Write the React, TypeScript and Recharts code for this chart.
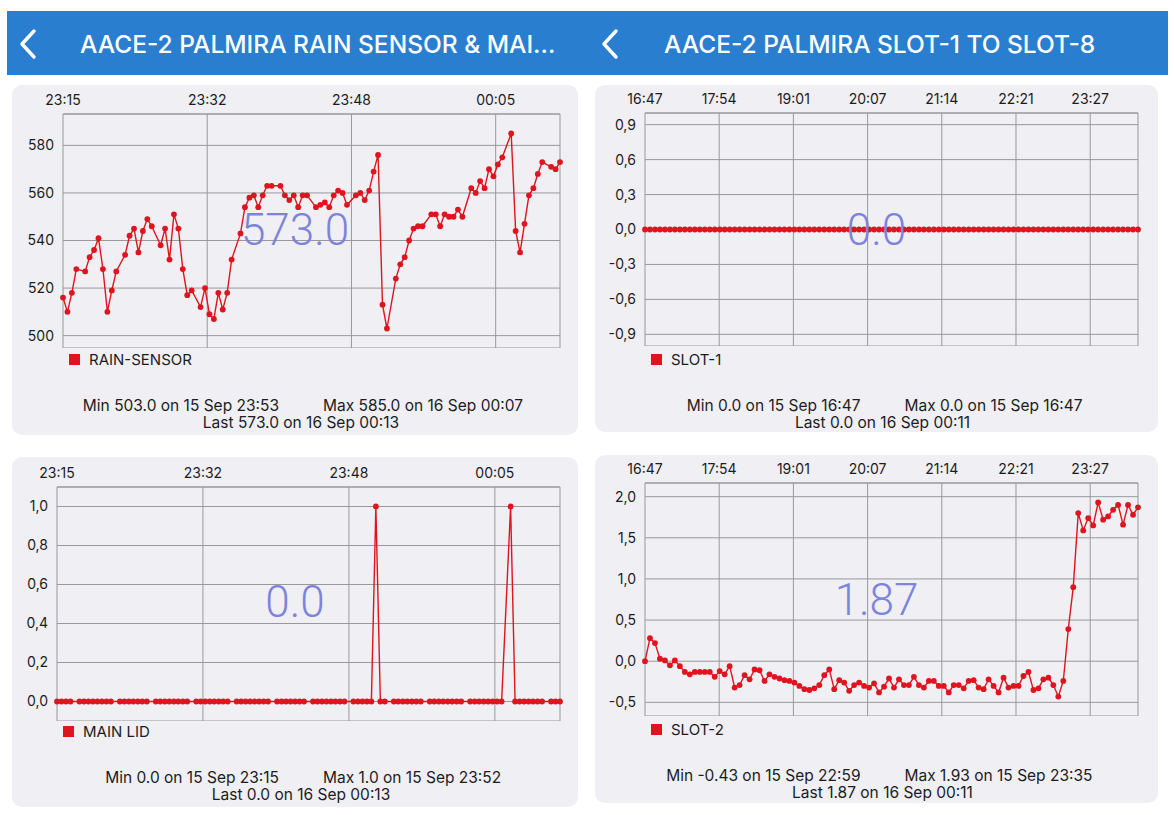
import { LineChart, Line, XAxis, YAxis, CartesianGrid } from 'recharts';

// left screen: samples every ~31 s starting 23:15 (some samples missing)
const leftSamples = [
  0, 1, 2, 3, 5, 6, 7, 8, 9, 10, 11, 12, 14, 15, 16, 17, 18, 19, 20, 22,
  23, 24, 25, 26, 27, 28, 29, 31, 32, 33, 34, 35, 36, 37, 38, 40, 41, 42, 43, 44,
  45, 46, 47, 49, 50, 51, 52, 53, 54, 55, 57, 58, 59, 60, 61, 62, 63, 64, 66, 67,
  68, 69, 70, 71, 72, 73, 75, 76, 77, 78, 79, 80, 81, 83, 84, 85, 86, 87, 88, 89,
  90, 92, 93, 94, 95, 96, 97, 98, 99, 101, 102, 103, 104, 105, 106, 107, 108, 110, 111, 112,
];

const rainSensor = [
  516, 510, 518, 528, 527, 533, 536, 541, 528, 510,
  519, 527, 534, 542, 545, 535, 544, 549, 546, 538,
  545, 532, 551, 545, 528, 517, 519, 512, 520, 509,
  507, 518, 511, 518, 532, 543, 554, 558, 559, 554,
  559, 563, 563, 563, 559, 557, 559, 554, 559, 559,
  554, 555, 556, 554, 559, 561, 560, 555, 559, 560,
  557, 561, 569, 576, 513, 503, 524, 530, 533, 540,
  545, 546, 546, 551, 551, 546, 551, 550, 550, 553,
  550, 562, 560, 565, 562, 570, 567, 572, 575, 585,
  544, 535, 547, 559, 562, 568, 573, 571, 570, 573,
];

const mainLid = [
  0, 0, 0, 0, 0, 0, 0, 0, 0, 0,
  0, 0, 0, 0, 0, 0, 0, 0, 0, 0,
  0, 0, 0, 0, 0, 0, 0, 0, 0, 0,
  0, 0, 0, 0, 0, 0, 0, 0, 0, 0,
  0, 0, 0, 0, 0, 0, 0, 0, 0, 0,
  0, 0, 0, 0, 0, 0, 0, 0, 0, 0,
  0, 0, 0, 1, 0, 0, 0, 0, 0, 0,
  0, 0, 0, 0, 0, 0, 0, 0, 0, 0,
  0, 0, 0, 0, 0, 0, 0, 0, 0, 1,
  0, 0, 0, 0, 0, 0, 0, 0, 0, 0,
];

const leftTicks = [0, 32.5, 65, 97.5];
const leftTickLabels = ['23:15', '23:32', '23:48', '00:05'];

// right screen: one sample every ~4.5 min starting 16:47
const slot1 = [
  0, 0, 0, 0, 0, 0, 0, 0, 0, 0, 0, 0, 0, 0, 0, 0, 0, 0, 0, 0,
  0, 0, 0, 0, 0, 0, 0, 0, 0, 0, 0, 0, 0, 0, 0, 0, 0, 0, 0, 0,
  0, 0, 0, 0, 0, 0, 0, 0, 0, 0, 0, 0, 0, 0, 0, 0, 0, 0, 0, 0,
  0, 0, 0, 0, 0, 0, 0, 0, 0, 0, 0, 0, 0, 0, 0, 0, 0, 0, 0, 0,
  0, 0, 0, 0, 0, 0, 0, 0, 0, 0, 0, 0, 0, 0, 0, 0, 0, 0, 0, 0,
];

const slot2 = [
  0.0, 0.28, 0.22, 0.03, 0.01, -0.05, 0.01, -0.06, -0.13, -0.16,
  -0.13, -0.13, -0.13, -0.13, -0.19, -0.12, -0.16, -0.06, -0.32, -0.29,
  -0.17, -0.22, -0.1, -0.11, -0.24, -0.16, -0.19, -0.21, -0.23, -0.24,
  -0.26, -0.3, -0.34, -0.35, -0.33, -0.29, -0.17, -0.1, -0.34, -0.23,
  -0.26, -0.36, -0.29, -0.26, -0.3, -0.32, -0.27, -0.38, -0.31, -0.21,
  -0.32, -0.22, -0.29, -0.29, -0.19, -0.29, -0.32, -0.24, -0.24, -0.3,
  -0.3, -0.38, -0.29, -0.29, -0.33, -0.24, -0.23, -0.32, -0.34, -0.22,
  -0.3, -0.38, -0.2, -0.32, -0.3, -0.3, -0.18, -0.13, -0.35, -0.33,
  -0.22, -0.2, -0.29, -0.43, -0.24, 0.39, 0.9, 1.8, 1.59, 1.74,
  1.65, 1.93, 1.72, 1.76, 1.84, 1.9, 1.66, 1.9, 1.78, 1.87,
];

const rightTicks = [0, 14.9, 29.8, 44.7, 59.6, 74.5, 89.4];
const rightTickLabels = ['16:47', '17:54', '19:01', '20:07', '21:14', '22:21', '23:27'];

const rainTicks = [500, 520, 540, 560, 580];
const lidTicks = [0, 0.2, 0.4, 0.6, 0.8, 1.0];
const slot1Ticks = [-0.9, -0.6, -0.3, 0, 0.3, 0.6, 0.9];
const slot2Ticks = [-0.5, 0, 0.5, 1, 1.5, 2];

const RED = '#e0141e';
const GRID = '#98989d';
const FONT = 'Inter, "Noto Sans", sans-serif';

const comma = (v: number) => v.toFixed(1).replace('.', ',');
const plain = (v: number) => String(v);

interface PanelProps {
  left: number;
  top: number;
  width: number;
  height: number;
  data: { x: number; v: number }[];
  xDomain: [number, number];
  xTicks: number[];
  xLabels: string[];
  yDomain: [number, number];
  yTicks: number[];
  yFormat: (v: number) => string;
  yWidth: number;
  axisHeight: number;
  chartHeight: number;
  rightGap: number;
  legend: string;
  current: string;
  minText: string;
  maxText: string;
  lastText: string;
}

function Panel(p: PanelProps) {
  const mid = p.width / 2 + 6;
  const tickStyle = { fill: '#1c1c1e', fontSize: 14, fontFamily: FONT };
  return (
    <div
      style={{
        position: 'absolute',
        left: p.left,
        top: p.top,
        width: p.width,
        height: p.height,
        background: '#efeff4',
        borderRadius: 10,
        fontFamily: FONT,
        color: '#1c1c1e',
      }}
    >
      <LineChart
        width={p.width}
        height={p.chartHeight}
        data={p.data}
        margin={{ top: 0, right: p.rightGap, bottom: 0, left: 0 }}
      >
        <CartesianGrid stroke={GRID} />
        <XAxis
          dataKey="x"
          type="number"
          orientation="top"
          domain={p.xDomain}
          ticks={p.xTicks}
          interval={0}
          height={p.axisHeight}
          tickSize={0}
          tickMargin={9}
          tickLine={false}
          axisLine={{ stroke: GRID }}
          tick={tickStyle}
          tickFormatter={(_v: number, i: number) => p.xLabels[i]}
        />
        <YAxis
          type="number"
          domain={p.yDomain}
          ticks={p.yTicks}
          interval={0}
          width={p.yWidth}
          tickSize={0}
          tickMargin={9}
          tickLine={false}
          axisLine={false}
          tick={tickStyle}
          tickFormatter={p.yFormat}
        />
        <Line
          dataKey="v"
          stroke={RED}
          strokeWidth={1.4}
          dot={{ r: 2.9, fill: RED, stroke: 'none' }}
          isAnimationActive={false}
        />
      </LineChart>

      <div
        style={{
          position: 'absolute',
          left: 0,
          top: 123,
          width: p.width,
          textAlign: 'center',
          fontFamily: 'Roboto, sans-serif',
          fontWeight: 300,
          fontSize: 44,
          lineHeight: '44px',
          color: '#7c84da',
          pointerEvents: 'none',
        }}
      >
        {p.current}
      </div>

      <div style={{ position: 'absolute', left: p.yWidth + 6, top: 265, display: 'flex', alignItems: 'center' }}>
        <span style={{ width: 11, height: 11, background: RED, display: 'inline-block', marginRight: 9 }} />
        <span style={{ fontSize: 15 }}>{p.legend}</span>
      </div>

      <div style={{ position: 'absolute', right: p.width - (mid - 22), top: 311, fontSize: 15.5, whiteSpace: 'nowrap' }}>
        {p.minText}
      </div>
      <div style={{ position: 'absolute', left: mid + 22, top: 311, fontSize: 15.5, whiteSpace: 'nowrap' }}>
        {p.maxText}
      </div>
      <div style={{ position: 'absolute', left: 0, width: mid * 2, top: 328, fontSize: 15.5, textAlign: 'center', whiteSpace: 'nowrap' }}>
        {p.lastText}
      </div>
    </div>
  );
}

function Chevron({ x }: { x: number }) {
  return (
    <svg style={{ position: 'absolute', left: x, top: 28, overflow: 'visible' }} width={20} height={32}>
      <polyline points="15,3 3,16 15,29" fill="none" stroke="#ffffff" strokeWidth={3.4} strokeLinecap="round" strokeLinejoin="round" />
    </svg>
  );
}

export default function App() {
  const rainData = leftSamples.map((x, i) => ({ x, v: rainSensor[i] }));
  const lidData = leftSamples.map((x, i) => ({ x, v: mainLid[i] }));
  const slot1Data = slot1.map((v, i) => ({ x: i, v }));
  const slot2Data = slot2.map((v, i) => ({ x: i, v }));

  const titleStyle = {
    position: 'absolute' as const,
    top: 29,
    fontFamily: FONT,
    fontSize: 24.5,
    fontWeight: 500,
    lineHeight: '30px',
    color: '#ffffff',
    whiteSpace: 'nowrap' as const,
  };

  return (
    <div style={{ position: 'absolute', left: 0, top: 0, width: 1174, height: 815, background: '#ffffff', overflow: 'hidden' }}>
      <div style={{ position: 'absolute', left: 7, top: 11, width: 1161, height: 64, background: '#2a7ecf' }} />
      <Chevron x={19} />
      <Chevron x={601} />
      <div style={{ ...titleStyle, left: 80 }}>AACE-2 PALMIRA RAIN SENSOR &amp; MAI...</div>
      <div style={{ ...titleStyle, left: 664 }}>AACE-2 PALMIRA SLOT-1 TO SLOT-8</div>

      <Panel
        left={12}
        top={85}
        width={566}
        height={350}
        data={rainData}
        xDomain={[0, 112]}
        xTicks={leftTicks}
        xLabels={leftTickLabels}
        yDomain={[494.8, 593.2]}
        yTicks={rainTicks}
        yFormat={plain}
        yWidth={51}
        axisHeight={29}
        chartHeight={263}
        rightGap={18}
        legend="RAIN-SENSOR"
        current="573.0"
        minText="Min 503.0 on 15 Sep 23:53"
        maxText="Max 585.0 on 16 Sep 00:07"
        lastText="Last 573.0 on 16 Sep 00:13"
      />

      <Panel
        left={595}
        top={85}
        width={563}
        height={347}
        data={slot1Data}
        xDomain={[0, 99]}
        xTicks={rightTicks}
        xLabels={rightTickLabels}
        yDomain={[-1, 1]}
        yTicks={slot1Ticks}
        yFormat={comma}
        yWidth={50}
        axisHeight={28}
        chartHeight={261}
        rightGap={20}
        legend="SLOT-1"
        current="0.0"
        minText="Min 0.0 on 15 Sep 16:47"
        maxText="Max 0.0 on 15 Sep 16:47"
        lastText="Last 0.0 on 16 Sep 00:11"
      />

      <Panel
        left={12}
        top={457}
        width={566}
        height={350}
        data={lidData}
        xDomain={[0, 112]}
        xTicks={leftTicks}
        xLabels={leftTickLabels}
        yDomain={[-0.1, 1.1]}
        yTicks={lidTicks}
        yFormat={comma}
        yWidth={45}
        axisHeight={30}
        chartHeight={264}
        rightGap={18}
        legend="MAIN LID"
        current="0.0"
        minText="Min 0.0 on 15 Sep 23:15"
        maxText="Max 1.0 on 15 Sep 23:52"
        lastText="Last 0.0 on 16 Sep 00:13"
      />

      <Panel
        left={595}
        top={455}
        width={563}
        height={348}
        data={slot2Data}
        xDomain={[0, 99]}
        xTicks={rightTicks}
        xLabels={rightTickLabels}
        yDomain={[-0.666, 2.166]}
        yTicks={slot2Ticks}
        yFormat={comma}
        yWidth={50}
        axisHeight={28}
        chartHeight={261}
        rightGap={20}
        legend="SLOT-2"
        current="1.87"
        minText="Min -0.43 on 15 Sep 22:59"
        maxText="Max 1.93 on 15 Sep 23:35"
        lastText="Last 1.87 on 16 Sep 00:11"
      />
    </div>
  );
}
